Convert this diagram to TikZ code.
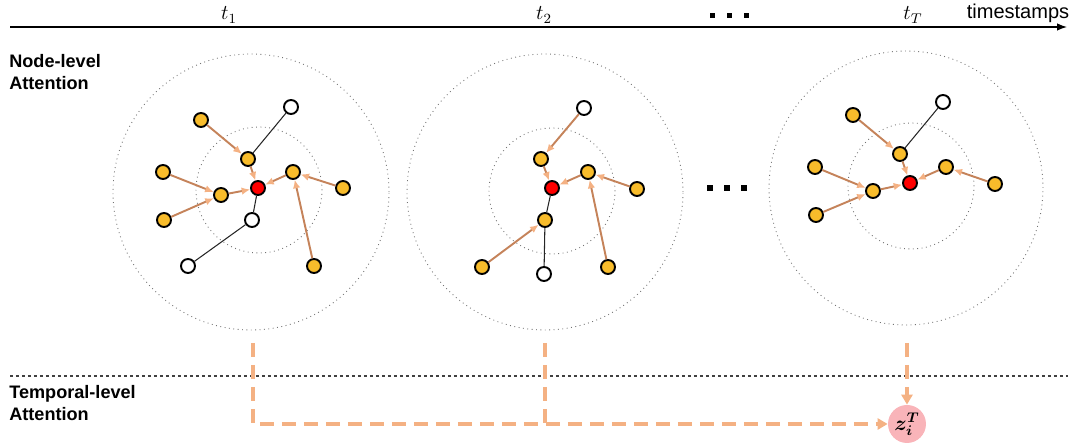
\documentclass[tikz,border=0pt]{standalone}
\usepackage{fontspec}
\setmainfont{Liberation Sans}
\usepackage{bm}
\usetikzlibrary{arrows.meta}
\definecolor{nodeyellow}{HTML}{F8BC2B}
\definecolor{edgebrown}{HTML}{C5835A}
\definecolor{tippeach}{HTML}{F4B183}
\definecolor{dashorange}{HTML}{F4B183}
\definecolor{zpink}{HTML}{F9B4B9}
\tikzset{
  gn/.style={circle, draw=black, line width=1.1pt, minimum size=0.28cm, inner sep=0pt},
  yn/.style={gn, fill=nodeyellow},
  wn/.style={gn, fill=white},
  rn/.style={gn, fill=red},
  att/.style={draw=edgebrown, line width=1.1pt, -{Latex[length=0.17cm,width=0.15cm,color=tippeach]}},
  plain/.style={draw=black!85, line width=0.6pt},
  ring/.style={draw=black!55, dotted, line width=0.5pt},
  tdash/.style={draw=dashorange, line width=2.1pt, dash pattern=on 0.28cm off 0.16cm},
  tarrow/.style={-{Triangle[length=0.2cm,width=0.22cm]}},
  sq/.style={rectangle, fill=black, inner sep=0pt},
  lab/.style={font=\fontsize{10.3}{12.5}\selectfont\bfseries, align=left, anchor=west, inner sep=0pt},
  tlabel/.style={font=\fontsize{12}{14}\selectfont, inner sep=1pt},
}
\begin{document}
\begin{tikzpicture}[x=0.02cm,y=-0.02cm]
\useasboundingbox (0,0) rectangle (1080,448);

% timeline
\coordinate (tl0) at (10,27);
\coordinate (tl1) at (1067,27);
\draw[line width=0.7pt, -{Latex[length=0.2cm,width=0.15cm]}] (tl0) -- (tl1);
\node[tlabel] (t1) at (229,15) {$t_1$};
\node[tlabel] (t2) at (544,15) {$t_2$};
\node[tlabel] (tT) at (913,15) {$t_T$};
\node (ts) at (1018,13) {\fontsize{11.4}{13}\selectfont timestamps};
\node[sq, minimum size=0.1cm] (ds1) at (712,16) {};
\node[sq, minimum size=0.1cm] (ds2) at (729,16) {};
\node[sq, minimum size=0.1cm] (ds3) at (746,16) {};

% labels
\node[lab] (nl) at (9,72) {Node-level\\Attention};
\node[lab] (tlab) at (9,403) {Temporal-level\\Attention};

% separator
\coordinate (s0) at (10,376);
\coordinate (s1) at (1068,376);
\draw[black!75, line width=0.6pt, dash pattern=on 0.07cm off 0.05cm] (s0) -- (s1);

% ===== graph 1 =====
\draw[ring] (251,192) circle [radius=2.76cm];
\draw[ring] (259,190) circle [radius=1.26cm];
\node[rn] (a0) at (258,188) {};
\node[yn] (aA) at (201,120) {};
\node[yn] (aB) at (248,159) {};
\node[wn] (aW1) at (291,107) {};
\node[yn] (aL1) at (163,172) {};
\node[yn] (aC) at (221,195) {};
\node[yn] (aL2) at (164,220) {};
\node[yn] (aD) at (293,172) {};
\node[yn] (aR) at (343,188) {};
\node[wn] (aW2) at (252,220) {};
\node[wn] (aW3) at (188,266) {};
\node[yn] (aBR) at (314,266) {};
\draw[plain] (aW1) -- (aB);
\draw[plain] (a0) -- (aW2);
\draw[plain] (aW2) -- (aW3);
\draw[att] (aA) -- (aB);
\draw[att] (aB) -- (a0);
\draw[att] (aL1) -- (aC);
\draw[att] (aL2) -- (aC);
\draw[att] (aC) -- (a0);
\draw[att] (aD) -- (a0);
\draw[att] (aR) -- (aD);
\draw[att] (aBR) -- (aD);

% ===== graph 2 =====
\draw[ring] (545,192) circle [radius=2.76cm];
\draw[ring] (552,191) circle [radius=1.26cm];
\node[rn] (b0) at (552,188) {};
\node[wn] (bW1) at (584,108) {};
\node[yn] (bA) at (541,159) {};
\node[yn] (bD) at (588,172) {};
\node[yn] (bR) at (637,189) {};
\node[yn] (bC) at (545,220) {};
\node[yn] (bLB) at (482,267) {};
\node[wn] (bW2) at (544,274) {};
\node[yn] (bBR) at (608,267) {};
\draw[plain] (b0) -- (bC);
\draw[plain] (bC) -- (bW2);
\draw[att] (bW1) -- (bA);
\draw[att] (bA) -- (b0);
\draw[att] (bD) -- (b0);
\draw[att] (bR) -- (bD);
\draw[att] (bBR) -- (bD);
\draw[att] (bLB) -- (bC);

% middle dots
\node[sq, minimum size=0.12cm] (m1) at (710,188) {};
\node[sq, minimum size=0.12cm] (m2) at (727,188) {};
\node[sq, minimum size=0.12cm] (m3) at (744,188) {};

% ===== graph 3 =====
\draw[ring] (906,188) circle [radius=2.74cm];
\draw[ring] (911,186) circle [radius=1.26cm];
\node[rn] (c0) at (910,183) {};
\node[wn] (cW1) at (943,102) {};
\node[yn] (cA) at (853,115) {};
\node[yn] (cB) at (900,154) {};
\node[yn] (cL1) at (815,167) {};
\node[yn] (cC) at (873,191) {};
\node[yn] (cL2) at (816,215) {};
\node[yn] (cD) at (946,167) {};
\node[yn] (cR) at (995,184) {};
\draw[plain] (cW1) -- (cB);
\draw[att] (cA) -- (cB);
\draw[att] (cB) -- (c0);
\draw[att] (cL1) -- (cC);
\draw[att] (cL2) -- (cC);
\draw[att] (cC) -- (c0);
\draw[att] (cD) -- (c0);
\draw[att] (cR) -- (cD);

% ===== temporal level =====
\node[circle, fill=zpink, minimum size=0.76cm, inner sep=0pt, font=\large] (z) at (907,424) {$\bm{z_i^T}$};
\coordinate (v1) at (253,343);
\coordinate (v2) at (545,343);
\coordinate (v3) at (907,343);
\draw[tdash, tarrow] (v1) |- (z);
\draw[tdash] (v2) -- (v2 |- z);
\draw[tdash, tarrow] (v3) -- (z);
\end{tikzpicture}
\end{document}
